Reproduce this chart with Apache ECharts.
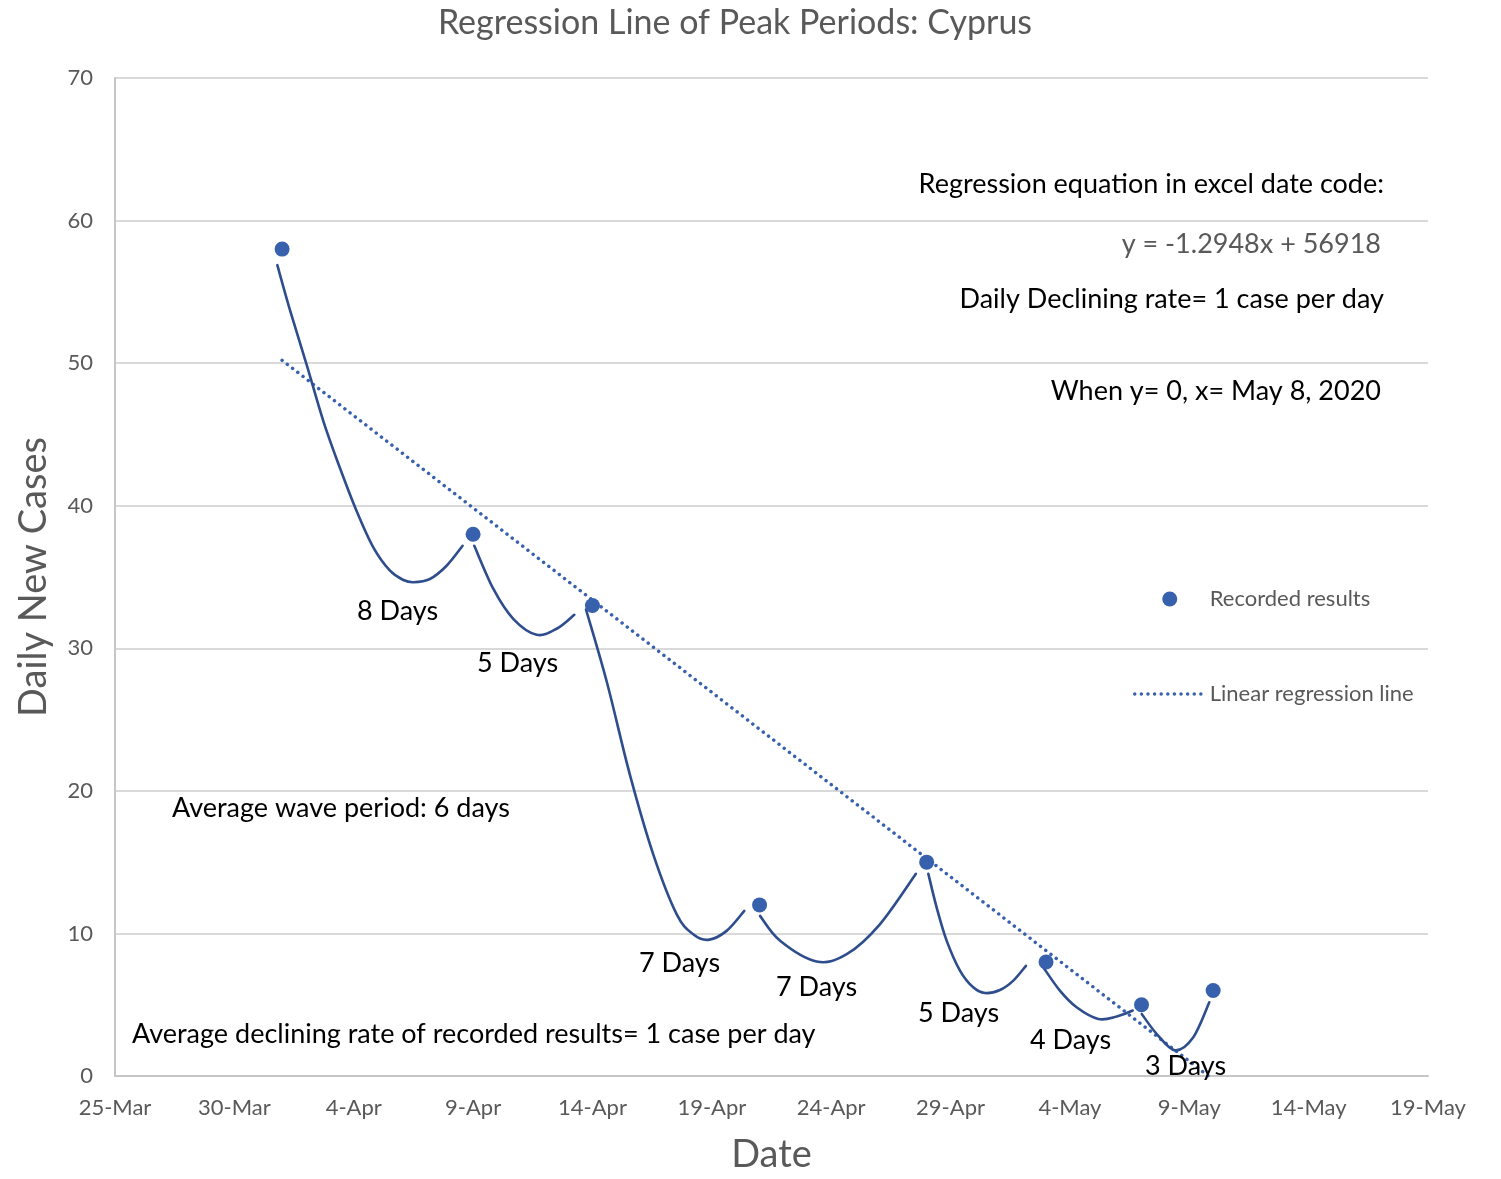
<!DOCTYPE html>
<html><head><meta charset="utf-8">
<script src="https://cdn.jsdelivr.net/npm/echarts@6/dist/echarts.min.js"></script>
<style>html,body{margin:0;padding:0;background:#fff}#c{width:1501px;height:1179px}</style>
</head><body><div id="c"></div>
<script>
// x values are days after 25-Mar-2020
const xTickLabels = ['25-Mar','30-Mar','4-Apr','9-Apr','14-Apr','19-Apr','24-Apr','29-Apr','4-May','9-May','14-May','19-May'];
const yTicks = [0,10,20,30,40,50,60,70];
const peakDates = ['1-Apr','9-Apr','14-Apr','21-Apr','28-Apr','3-May','7-May','10-May'];
const peakDay = [7,15,20,27,34,39,43,46];
const peakCases = [58,38,33,12,15,8,5,6];
const regressionLine = [[7,50.2],[45.8,0]];
const wave1 = [[6.80,56.87],[7.33,53.72],[8.03,49.88],[8.73,45.92],[9.42,42.66],[10.12,39.63],[10.82,37.08],[11.52,35.44],[12.08,34.79],[12.50,34.63],[13.19,34.86],[13.89,35.79],[14.56,37.19]];
const wave2 = [[15.05,37.19],[15.85,34.16],[16.68,32.07],[17.66,30.95],[18.50,31.37],[19.24,32.35]];
const wave3 = [[19.73,32.72],[20.60,27.65],[21.57,21.12],[22.55,15.53],[23.53,11.34],[24.22,9.94],[24.85,9.55],[25.62,10.18],[26.36,11.58]];
const wave4 = [[27.02,11.23],[27.86,9.48],[29.39,8.03],[30.65,8.54],[32.04,10.64],[33.55,14.18]];
const wave5 = [[34.07,14.18],[34.42,11.81],[34.84,9.48],[35.40,7.38],[35.95,6.22],[36.44,5.82],[37.07,6.03],[37.63,6.69],[38.16,7.73]];
const wave6 = [[38.89,7.61],[39.58,5.99],[40.28,4.82],[41.19,4.00],[41.96,4.17],[42.63,4.59]];
const wave7 = [[43.01,4.35],[43.63,2.96],[44.40,1.80],[45.17,2.72],[45.84,5.17]];
const waves = [wave1,wave2,wave3,wave4,wave5,wave6,wave7];

const FONT = 'Lato';
const GREY = '#595959';
const DOT = '#3760ad';
const CURVE = '#2e4d8d';

const chart = echarts.init(document.getElementById('c'), null, {renderer:'canvas'});

function txt(text, x, y, size, color, align) {
  return {type:'text', z:10, style:{text:text, x:x, y:y, fill:color, fontSize:size, fontFamily:FONT,
    textAlign:align, align:align, textVerticalAlign:'middle', verticalAlign:'middle'}};
}

// smooth curve (Catmull-Rom) through the wave points, positioned by the axes
function renderWave(params, api) {
  const w = waves[api.value(2)];
  const pts = w.map(p => api.coord(p));
  const n = pts.length;
  let d = 'M' + pts[0][0] + ',' + pts[0][1];
  for (let i = 0; i < n - 1; i++) {
    const p0 = pts[Math.max(i - 1, 0)], p1 = pts[i], p2 = pts[i + 1], p3 = pts[Math.min(i + 2, n - 1)];
    const c1x = p1[0] + (p2[0] - p0[0]) / 6, c1y = p1[1] + (p2[1] - p0[1]) / 6;
    const c2x = p2[0] - (p3[0] - p1[0]) / 6, c2y = p2[1] - (p3[1] - p1[1]) / 6;
    d += ' C' + c1x + ',' + c1y + ' ' + c2x + ',' + c2y + ' ' + p2[0] + ',' + p2[1];
  }
  return {type:'path', shape:{pathData:d}, style:{stroke:CURVE, lineWidth:2.6, fill:'none', lineCap:'round'}};
}

const series = [
  {name:'Linear regression line', type:'line', data:regressionLine, symbol:'none', z:3,
   lineStyle:{color:DOT, width:3.5, type:[0.01,6.6], cap:'round'}, itemStyle:{color:DOT}},
  {name:'waves', type:'custom', z:4, renderItem:renderWave,
   data:waves.map((w,i)=>[w[0][0], w[0][1], i]), encode:{x:0, y:1}},
  {name:'Recorded results', type:'scatter', data:peakDay.map((d,i)=>[d,peakCases[i]]), symbol:'circle', symbolSize:15, z:5,
   itemStyle:{color:DOT, opacity:1}}
];

chart.setOption({
  animation:false,
  backgroundColor:'#fff',
  grid:{left:115, right:73, top:78, bottom:97, containLabel:false},
  legend:{data:['Recorded results', {name:'Linear regression line', itemStyle:{opacity:0}}],
    orient:'vertical', left:1133, top:586,
    itemWidth:70, itemHeight:15, itemGap:69, padding:0,
    textStyle:{fontFamily:FONT, fontSize:22, color:GREY, lineHeight:26},
    lineStyle:{width:3.5, type:[0.01,6.6], cap:'round'}},
  xAxis:{type:'value', min:0, max:55, interval:5,
    name:'Date', nameLocation:'middle', nameGap:60,
    nameTextStyle:{fontFamily:FONT, fontSize:38, color:GREY},
    axisLine:{show:true, lineStyle:{color:'#c6c6c6', width:2}}, axisTick:{show:false},
    splitLine:{show:false},
    axisLabel:{fontFamily:FONT, fontSize:22, color:GREY, margin:21, formatter:v=>xTickLabels[Math.round(v/5)]||''}},
  yAxis:{type:'value', min:yTicks[0], max:yTicks[yTicks.length-1], interval:10,
    name:'Daily New Cases', nameLocation:'middle', nameGap:62, nameRotate:90,
    nameTextStyle:{fontFamily:FONT, fontSize:38, color:GREY},
    axisLine:{show:true, lineStyle:{color:'#c6c6c6', width:2}}, axisTick:{show:false},
    splitLine:{show:true, lineStyle:{color:'#d9d9d9', width:2}},
    axisLabel:{fontFamily:FONT, fontSize:22, color:GREY, margin:22}},
  series:series,
  graphic:[
    txt('Regression Line of Peak Periods: Cyprus', 735, 23, 34, GREY, 'center'),
    txt('Regression equation in excel date code:', 1384, 184, 27, '#000', 'right'),
    txt('y = -1.2948x + 56918', 1381, 244, 27, GREY, 'right'),
    txt('Daily Declining rate= 1 case per day', 1384, 299, 27, '#000', 'right'),
    txt('When y= 0, x= May 8, 2020', 1381, 391, 27, '#000', 'right'),
    txt('8 Days', 357, 611, 27, '#000', 'left'),
    txt('5 Days', 477, 663, 27, '#000', 'left'),
    txt('7 Days', 639, 963, 27, '#000', 'left'),
    txt('7 Days', 776, 987, 27, '#000', 'left'),
    txt('5 Days', 918, 1013, 27, '#000', 'left'),
    txt('4 Days', 1030, 1040, 27, '#000', 'left'),
    txt('3 Days', 1145, 1066, 27, '#000', 'left'),
    txt('Average wave period: 6 days', 172, 808, 27, '#000', 'left'),
    txt('Average declining rate of recorded results= 1 case per day', 132, 1034, 27, '#000', 'left')
  ]
});
</script></body></html>
